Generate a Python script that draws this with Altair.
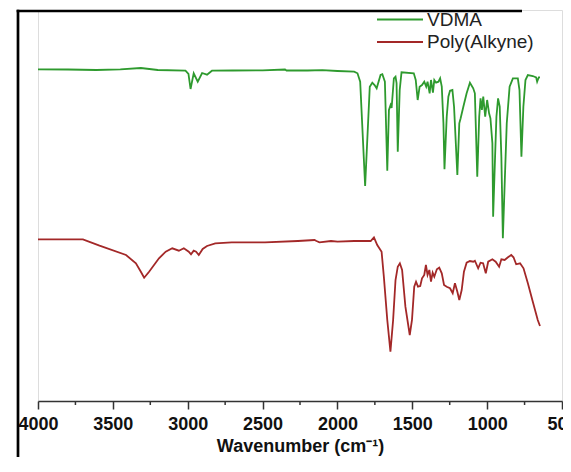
import altair as alt
import pandas as pd

# ---- data ----
series_names = ["VDMA", "Poly(Alkyne)"]
series_colors = ["#2e9a2e", "#a32828"]

vdma_wn = [4000, 3800, 3611, 3450, 3313, 3200, 3015, 2995, 2981, 2960, 2933, 2904,
           2871, 2838, 2700, 2500, 2350, 2340, 2200, 2100, 2000, 1888, 1866, 1848,
           1815, 1784, 1767, 1752, 1738, 1712, 1700, 1683, 1667, 1656, 1645, 1638,
           1623, 1612, 1605, 1597, 1584, 1572, 1490, 1477, 1464, 1451, 1435, 1420,
           1407, 1398, 1384, 1375, 1362, 1353, 1341, 1325, 1314, 1303, 1292, 1285,
           1270, 1259, 1248, 1232, 1221, 1199, 1186, 1177, 1159, 1137, 1115, 1093,
           1082, 1066, 1053, 1044, 1035, 1026, 1013, 1000, 987, 978, 965, 960, 947,
           938, 927, 916, 905, 895, 882, 869, 850, 828, 795, 784, 771, 758, 744,
           728, 695, 673, 666, 655, 647]
vdma_t = [331.7, 331.5, 331.0, 331.7, 333.0, 331.0, 330.3, 327.0, 312.0, 327.7, 319.3, 328.0,
          326.3, 330.3, 330.5, 330.7, 331.5, 330.5, 330.5, 330.8, 330.0, 329.3, 327.7, 319.3,
          215.0, 314.3, 318.3, 316.0, 312.7, 326.0, 326.7, 319.3, 230.3, 291.0, 296.0, 293.0,
          322.7, 324.3, 318.0, 249.3, 311.0, 328.7, 327.7, 321.0, 301.0, 314.3, 316.0, 319.3,
          314.3, 319.3, 307.7, 321.0, 308.3, 321.0, 318.3, 319.3, 322.7, 314.3, 278.0, 231.7,
          284.3, 304.3, 310.3, 311.0, 294.3, 226.0, 277.7, 282.7, 294.3, 307.7, 318.3, 312.7,
          307.7, 224.3, 284.3, 302.7, 291.0, 304.3, 284.3, 301.0, 287.7, 282.7, 257.7, 184.3, 244.3,
          284.3, 302.7, 294.3, 244.3, 162.7, 221.0, 277.7, 314.3, 322.7, 322.7, 311.0, 244.3, 294.3, 321.0,
          326.0, 325.0, 323.7, 319.3, 323.7, 323.7]

poly_wn = [4000, 3700, 3589, 3412, 3346, 3313, 3291, 3258, 3192, 3147, 3103, 3059,
           3026, 2993, 2978, 2960, 2944, 2926, 2900, 2871, 2816, 2706, 2484, 2264,
           2153, 2140, 2120, 2043, 1999, 1888, 1778, 1756, 1734, 1705, 1690, 1667,
           1646, 1628, 1612, 1597, 1583, 1568, 1546, 1517, 1502, 1487, 1475, 1462,
           1447, 1435, 1420, 1409, 1398, 1386, 1375, 1364, 1353, 1336, 1320, 1303,
           1288, 1270, 1248, 1230, 1215, 1199, 1186, 1170, 1155, 1137, 1115, 1093,
           1082, 1060, 1044, 1027, 1009, 993, 965, 943, 920, 905, 883, 861, 839,
           824, 806, 780, 757, 728, 695, 662, 647]
poly_t = [161.7, 161.7, 155.3, 146.0, 137.7, 129.3, 123.3, 129.3, 142.7, 149.3, 152.7, 150.3,
          152.7, 149.3, 146.7, 150.3, 149.3, 146.0, 152.0, 155.0, 157.7, 158.7, 158.7, 160.0,
          161.0, 160.0, 158.7, 160.0, 159.3, 160.0, 160.0, 163.7, 156.0, 149.3, 124.3, 81.0,
          49.3, 81.0, 121.0, 134.3, 137.7, 131.0, 94.3, 66.0, 81.0, 114.3, 119.3, 114.3,
          115.0, 122.7, 126.0, 136.0, 126.0, 131.0, 119.3, 128.3, 124.3, 131.7, 133.3, 127.7,
          116.0, 114.3, 112.7, 107.7, 117.7, 109.3, 101.0, 111.0, 129.3, 138.3, 140.0, 139.3,
          140.3, 132.7, 138.3, 137.7, 127.7, 139.3, 141.7, 139.3, 134.3, 141.7, 141.0, 143.7, 146.0,
          143.7, 136.7, 137.7, 132.7, 117.7, 99.3, 81.0, 75.0]

x_ticks = [4000, 3500, 3000, 2500, 2000, 1500, 1000, 500]
minor_ticks = [3750, 3250, 2750, 2250, 1750, 1250, 750]

df = pd.concat([
    pd.DataFrame({"wn": vdma_wn, "t": vdma_t, "series": series_names[0]}),
    pd.DataFrame({"wn": poly_wn, "t": poly_t, "series": series_names[1]}),
], ignore_index=True)
minor_df = pd.DataFrame({"wn": minor_ticks})
one_df = pd.DataFrame({"k": [0]})

FONT = "Liberation Sans"
AXIS_COLOR = "#333333"
W, H = 524, 391

xscale = alt.Scale(domain=[4000, 500], nice=False, zero=False)
cscale = alt.Scale(domain=series_names, range=series_colors)

lines = alt.Chart(df).mark_line(strokeWidth=1.8, clip=True).encode(
    x=alt.X("wn:Q", scale=xscale,
            axis=alt.Axis(values=x_ticks, format="d", title="Wavenumber (cm\u207b\u00b9)",
                          grid=False, domainColor=AXIS_COLOR, domainWidth=1.5,
                          tickColor=AXIS_COLOR, tickWidth=1.5, tickSize=8,
                          labelFont=FONT, labelFontSize=18, labelFontWeight="bold",
                          labelColor="#111111", labelPadding=6, labelFlush=False,
                          labelOverlap=False,
                          titleFont=FONT, titleFontSize=18, titleFontWeight="bold",
                          titleColor="#111111", titlePadding=4)),
    y=alt.Y("t:Q", scale=alt.Scale(domain=[0, 391], nice=False, zero=False), axis=None),
    color=alt.Color("series:N", sort=series_names, scale=cscale, legend=None),
)

minor = alt.Chart(minor_df).mark_rule(color=AXIS_COLOR, strokeWidth=1.5).encode(
    x=alt.X("wn:Q", scale=xscale),
    y=alt.value(H),
    y2=alt.value(H + 4),
)

# outer frame pieces (left and top edges)
frame_left = alt.Chart(one_df).mark_rect(color="#000000", strokeWidth=0).encode(
    x=alt.value(-21.35), x2=alt.value(-18.65), y=alt.value(-0.15), y2=alt.value(447))
frame_top = alt.Chart(one_df).mark_rect(color="#000000", strokeWidth=0).encode(
    x=alt.value(-21.35), x2=alt.value(W - 40), y=alt.value(-0.15), y2=alt.value(2.15))

# legend (top right): short coloured line + label for each series
LEG_X, LEG_LEN, LEG_Y0, LEG_STEP = 339, 46, 9.5, 22.5
legend_layers = []
for i, name in enumerate(series_names):
    ldf = pd.DataFrame({"series": [name]})
    yy = LEG_Y0 + i * LEG_STEP
    legend_layers.append(
        alt.Chart(ldf).mark_rule(strokeWidth=2).encode(
            x=alt.value(LEG_X), x2=alt.value(LEG_X + LEG_LEN), y=alt.value(yy),
            color=alt.Color("series:N", scale=cscale, legend=None)))
    legend_layers.append(
        alt.Chart(ldf).mark_text(align="left", baseline="middle", font=FONT,
                                 fontSize=19, color="#222222").encode(
            x=alt.value(LEG_X + LEG_LEN + 4), y=alt.value(yy), text="series:N"))

chart = alt.layer(frame_left, frame_top, lines, minor, *legend_layers).properties(
    width=W, height=H,
    padding={"left": 30, "top": 2, "right": 1, "bottom": 56},
    autosize=alt.AutoSizeParams(type="none"),
).configure_view(stroke="transparent", strokeWidth=0).configure(background="white")

chart.save("out.html", embed_options={"renderer": "svg", "actions": False})
